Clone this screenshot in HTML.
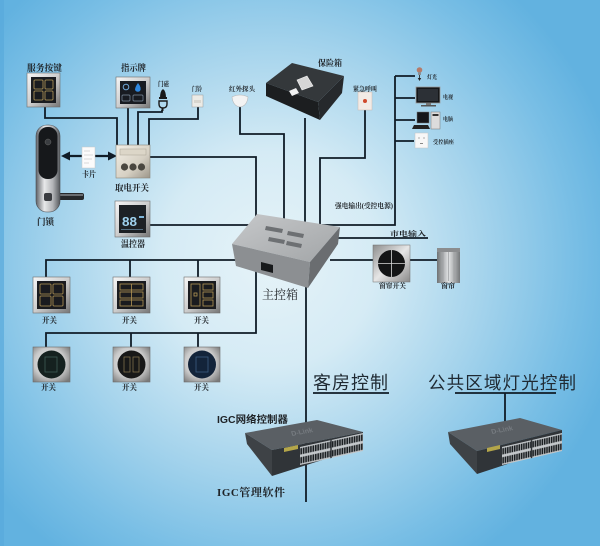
<!DOCTYPE html>
<html><head><meta charset="utf-8">
<style>
html,body{margin:0;padding:0;background:#9fd0ec;}
body{width:600px;height:546px;overflow:hidden;}
svg{display:block;}
.s{font-family:"Liberation Serif","Noto Serif CJK SC",serif;font-weight:bold;fill:#1e2226;}
.h{font-family:"Liberation Sans","Noto Sans CJK SC",sans-serif;fill:#1f2a33;}
.ln{fill:none;stroke:#101c27;stroke-width:1.8;}
</style></head><body>
<svg width="600" height="546" viewBox="0 0 600 546" xmlns="http://www.w3.org/2000/svg">
<defs>
<radialGradient id="bg" cx="270" cy="260" r="360" gradientUnits="userSpaceOnUse">
 <stop offset="0" stop-color="#e6f3f8"/>
 <stop offset="0.3" stop-color="#d5ebf5"/>
 <stop offset="0.6" stop-color="#a4d3ec"/>
 <stop offset="0.85" stop-color="#78bee5"/>
 <stop offset="1" stop-color="#62b2e0"/>
</radialGradient>
<linearGradient id="silver" x1="0" y1="0" x2="1" y2="1">
 <stop offset="0" stop-color="#f6f6f6"/><stop offset="0.5" stop-color="#cdcdcd"/><stop offset="1" stop-color="#767676"/>
</linearGradient>
<radialGradient id="frame2" cx="0.45" cy="0.45" r="0.7">
 <stop offset="0" stop-color="#f4f4f4"/><stop offset="0.6" stop-color="#c9c9c9"/><stop offset="1" stop-color="#7a7a7a"/>
</radialGradient>
<linearGradient id="beige" x1="0" y1="0" x2="1" y2="1">
 <stop offset="0" stop-color="#f3efe6"/><stop offset="0.6" stop-color="#d6d0c3"/><stop offset="1" stop-color="#9c968a"/>
</linearGradient>
<linearGradient id="lockg" x1="0" y1="0" x2="1" y2="0">
 <stop offset="0" stop-color="#5e6166"/><stop offset="0.35" stop-color="#e8e9ea"/><stop offset="0.7" stop-color="#b2b4b7"/><stop offset="1" stop-color="#55585c"/>
</linearGradient>
<linearGradient id="boxTop" x1="0" y1="0" x2="1" y2="1">
 <stop offset="0" stop-color="#c6c8ca"/><stop offset="1" stop-color="#a2a5a7"/>
</linearGradient>
<linearGradient id="curt" x1="0" y1="0" x2="1" y2="0">
 <stop offset="0" stop-color="#6f7274"/><stop offset="0.5" stop-color="#e2e4e5"/><stop offset="1" stop-color="#75787a"/>
</linearGradient>
<linearGradient id="cswitch" x1="0" y1="0" x2="1" y2="1">
 <stop offset="0" stop-color="#8d8d8d"/><stop offset="0.5" stop-color="#e6e6e6"/><stop offset="1" stop-color="#8a8a8a"/>
</linearGradient>
<pattern id="ports" patternUnits="userSpaceOnUse" width="10" height="20">
 <rect width="10" height="20" fill="#c4c8cb"/>
 <rect x="1.5" y="3" width="7" height="14" fill="#1b1f22"/>
</pattern>
</defs>

<rect width="600" height="546" fill="url(#bg)"/>
<rect x="0" y="0" width="4" height="546" fill="#58aadb" opacity="0.7"/>

<!-- connector lines -->
<path class="ln" d="M45,107 V118 H117 V145"/>
<path class="ln" d="M128,108 V145"/>
<path class="ln" d="M162,110 V112 H138 V145"/>
<path class="ln" d="M198,107 V119 H149 V145"/>
<path class="ln" d="M150,157 H256 V224"/>
<path class="ln" d="M150,225 H256"/>
<path class="ln" d="M240,106 V134 H284 V220"/>
<path class="ln" d="M305,118 V224"/>
<path class="ln" d="M365,110 V158 H320 V226"/>
<path class="ln" d="M322,225 H395 V76"/>
<path class="ln" d="M395,76 H415 M395,98 H415 M395,120 H415 M395,141 H414"/>
<path class="ln" d="M336,238 H428"/>
<path class="ln" d="M330,260 H373 M410,260 H437"/>
<path class="ln" d="M306,280 V502"/>
<path class="ln" d="M240,260 H46 V277 M130,260 V277 M198,260 V277"/>
<path class="ln" d="M256,255 V333 H46 V347 M131,333 V347 M198,333 V347"/>
<path class="ln" d="M313,393 H389"/>
<path class="ln" d="M455,393 H556 M505,393 V422"/>

<!-- double arrow -->
<path d="M67,156 H111" stroke="#101c27" stroke-width="2.2" fill="none"/>
<polygon points="61,156 70,151.5 70,160.5" fill="#101c27"/>
<polygon points="117,156 108,151.5 108,160.5" fill="#101c27"/>

<!-- 服务按键 -->
<rect x="27" y="73" width="33" height="34" fill="url(#silver)" stroke="#6d6d6d" stroke-width="0.6"/>
<rect x="31" y="77" width="25" height="26" fill="#1a1c20"/>
<g fill="none" stroke="#b79a5a" stroke-width="0.8">
 <rect x="34" y="80" width="9" height="9" rx="1"/><rect x="45" y="80" width="8" height="9" rx="1"/>
 <rect x="34" y="91" width="9" height="9" rx="1"/><rect x="45" y="91" width="8" height="9" rx="1"/>
</g>

<!-- 指示牌 -->
<rect x="116" y="77" width="34" height="31" fill="url(#silver)" stroke="#6d6d6d" stroke-width="0.6"/>
<rect x="120" y="81" width="26" height="23" fill="#181b21"/>
<circle cx="126" cy="87" r="2.8" fill="none" stroke="#6fa6d6" stroke-width="1"/>
<path d="M138,83 Q142,88 140,91 Q137,93 135,90 Q135,87 138,83 Z" fill="#2f88e0"/>
<rect x="122" y="95" width="8" height="6" rx="1" fill="none" stroke="#7d8da0" stroke-width="0.7"/>
<rect x="133" y="95" width="10" height="6" rx="1" fill="none" stroke="#7d8da0" stroke-width="0.7"/>

<!-- 门磁 -->
<path d="M160,98 Q160,91 163,89 Q166,91 166,98 Z" fill="#1a1a1a"/>
<rect x="159" y="97" width="8" height="2" fill="#1a1a1a"/>
<path d="M159,101 H167 V104 Q167,108 163,108 Q159,108 159,104 Z" fill="none" stroke="#1a1a1a" stroke-width="1.4"/>
<rect x="161.5" y="108" width="2" height="3" fill="#1a1a1a"/>

<!-- 门铃 -->
<rect x="192" y="95" width="11" height="12" fill="#ecebe6" stroke="#9c9c9c" stroke-width="0.5"/>
<rect x="194" y="100" width="7" height="3" fill="#d8d6cf"/>

<!-- 红外探头 -->
<path d="M232,97 Q240,93 248,97 Q247,106 240,107 Q233,106 232,97 Z" fill="#f3f3f3" stroke="#b8b8b8" stroke-width="0.6"/>

<!-- 保险箱 -->
<polygon points="266,83 292,63 344,76 318,102" fill="#34383b"/>
<polygon points="266,83 318,102 320,120 266,96" fill="#1c1e20"/>
<polygon points="318,102 344,76 342,93 320,120" fill="#26292c"/>
<polygon points="297,80 307,76 313,86 302,90" fill="#d6d6d6" stroke="#f4f4f4" stroke-width="0.6"/>
<polygon points="289,91 296,88 299,93 292,96" fill="#f1f1f1"/>

<!-- 紧急呼叫 -->
<rect x="358" y="92" width="14" height="18" fill="#f2ebe6" stroke="#c9b9b0" stroke-width="0.5"/>
<circle cx="365" cy="101" r="2" fill="#d0492c"/>

<!-- right side appliances -->
<circle cx="419.5" cy="70" r="2.8" fill="#b47b6a"/>
<rect x="418" y="72" width="3" height="3" fill="#8a8f95"/>
<path d="M419.5,75 V80" stroke="#222" stroke-width="0.8"/>
<polygon points="417.8,78 421.2,78 419.5,81" fill="#222"/>

<rect x="416" y="87" width="24" height="16" fill="#161719" stroke="#9a9a9a" stroke-width="0.8"/>
<rect x="418" y="89" width="20" height="12" fill="#2c3036"/>
<rect x="426" y="103" width="5" height="2.5" fill="#777"/>
<rect x="421" y="105" width="15" height="1.5" fill="#555"/>

<rect x="417" y="112" width="12" height="11" fill="#15161a" stroke="#777" stroke-width="0.5"/>
<rect x="431" y="112" width="9" height="17" fill="#dcdcdc" stroke="#777" stroke-width="0.5"/>
<rect x="432.5" y="114" width="6" height="2" fill="#333"/>
<polygon points="414,125 428,125 430,129 412,129" fill="#222"/>

<rect x="415" y="133" width="13" height="15" fill="#f7f7f7" stroke="#c4c4c4" stroke-width="0.5"/>
<circle cx="419" cy="138" r="0.6" fill="#777"/><circle cx="424" cy="138" r="0.6" fill="#777"/>
<rect x="420" y="143" width="3" height="1" fill="#888"/>

<!-- 门锁 -->
<rect x="47" y="193" width="37" height="7" rx="2" fill="#26282b"/>
<rect x="49" y="194" width="34" height="2" fill="#6a6d71"/>
<rect x="36" y="125" width="24" height="87" rx="11" fill="url(#lockg)" stroke="#4a4c50" stroke-width="0.6"/>
<rect x="38.5" y="127" width="19" height="52" rx="9" fill="#16181b"/>
<circle cx="48" cy="142" r="3" fill="#3a3d41" stroke="#666" stroke-width="0.5"/>
<rect x="44" y="193" width="8" height="8" rx="2" fill="#3a3c40"/>

<!-- 卡片 -->
<rect x="82" y="147" width="13" height="21" fill="#fbfbfb" stroke="#c8c8c8" stroke-width="0.5"/>
<path d="M84,151 H90 M84,155 H93 M84,159 H92 M84,163 H89" stroke="#b8b8b8" stroke-width="0.6"/>

<!-- 取电开关 -->
<rect x="116" y="145" width="34" height="33" fill="url(#beige)" stroke="#8a857a" stroke-width="0.6"/>
<rect x="120" y="149" width="26" height="6" fill="#dcd6c8" stroke="#a9a395" stroke-width="0.5"/>
<circle cx="124.5" cy="167" r="3.6" fill="#4a4740"/>
<circle cx="133" cy="167" r="3.6" fill="#4a4740"/>
<circle cx="141.5" cy="167" r="3.6" fill="#4a4740"/>

<!-- 温控器 -->
<rect x="115" y="201" width="35" height="36" fill="url(#silver)" stroke="#6d6d6d" stroke-width="0.6"/>
<rect x="119" y="205" width="27" height="28" fill="#1d2125"/>
<text x="122" y="226" font-family="Liberation Sans, sans-serif" font-size="13" font-weight="bold" fill="#9fd2ef" textLength="15" lengthAdjust="spacingAndGlyphs">88</text>
<rect x="139" y="216" width="5" height="2" fill="#7fb6da"/>
<rect x="121" y="229" width="22" height="1" fill="#546e82"/>

<!-- 主控箱 -->
<polygon points="257,214 340,227 310,262 232,244" fill="url(#boxTop)"/>
<polygon points="232,244 310,262 308,288 236,266" fill="#8c8f92"/>
<polygon points="310,262 340,227 338,244 308,288" fill="#6a6d70"/>
<g fill="#6d7073">
 <polygon points="266,226 283,229 282,233 265,230"/>
 <polygon points="288,231 304,234 303,238 287,235"/>
 <polygon points="269,237 285,240 284,244 268,241"/>
 <polygon points="287,241 302,244 301,248 286,245"/>
</g>
<polygon points="261,262 273,265 273,273 261,270" fill="#17191b"/>

<!-- 窗帘开关 / 窗帘 -->
<rect x="373" y="245" width="37" height="37" fill="url(#cswitch)" stroke="#6f6f6f" stroke-width="0.5"/>
<circle cx="391.5" cy="263.5" r="13.5" fill="#141516"/>
<path d="M378,263.5 H405 M391.5,250 V277" stroke="#d9d9d9" stroke-width="0.8"/>
<rect x="437" y="248" width="23" height="35" fill="url(#curt)"/>
<path d="M443,250 V281 M448.5,250 V281 M454,250 V281" stroke="#9a9c9e" stroke-width="0.7"/>
<rect x="437" y="248" width="23" height="4" fill="#8b8d8f"/>

<!-- 开关 row 1 -->
<rect x="33" y="277" width="37" height="36" fill="url(#silver)" stroke="#6d6d6d" stroke-width="0.6"/>
<rect x="37" y="281" width="29" height="28" fill="#1a1b1f"/>
<g fill="none" stroke="#b39656" stroke-width="0.8">
 <rect x="40" y="284" width="11" height="10" rx="1"/><rect x="53" y="284" width="10" height="10" rx="1"/>
 <rect x="40" y="296" width="11" height="10" rx="1"/><rect x="53" y="296" width="10" height="10" rx="1"/>
</g>
<rect x="113" y="277" width="37" height="36" fill="url(#silver)" stroke="#6d6d6d" stroke-width="0.6"/>
<rect x="117" y="281" width="29" height="28" fill="#1a1b1f"/>
<g fill="none" stroke="#b39656" stroke-width="0.8">
 <rect x="120" y="284" width="23" height="6"/><rect x="120" y="292" width="23" height="6"/><rect x="120" y="300" width="23" height="6"/>
 <path d="M131.5,284 V306"/>
</g>
<rect x="184" y="277" width="36" height="36" fill="url(#silver)" stroke="#6d6d6d" stroke-width="0.6"/>
<rect x="188" y="281" width="28" height="28" fill="#1a1b1f"/>
<g fill="none" stroke="#b39656" stroke-width="0.8">
 <rect x="191" y="284" width="9" height="22"/><rect x="203" y="284" width="10" height="6"/><rect x="203" y="292" width="10" height="6"/><rect x="203" y="300" width="10" height="6"/>
 <rect x="194" y="293" width="3" height="3"/>
</g>

<!-- 开关 row 2 -->
<rect x="33" y="347" width="37" height="35" fill="url(#frame2)" stroke="#6d6d6d" stroke-width="0.6"/>
<circle cx="51.5" cy="364.5" r="14" fill="#15211f"/>
<rect x="45" y="357" width="12" height="15" fill="none" stroke="#3e5b55" stroke-width="0.8"/>
<rect x="113" y="347" width="37" height="35" fill="url(#frame2)" stroke="#6d6d6d" stroke-width="0.6"/>
<circle cx="131.5" cy="364.5" r="14" fill="#181818"/>
<g fill="none" stroke="#8a7a52" stroke-width="0.7"><rect x="124" y="357" width="6" height="15"/><rect x="133" y="357" width="6" height="15"/></g>
<rect x="184" y="347" width="36" height="35" fill="url(#frame2)" stroke="#6d6d6d" stroke-width="0.6"/>
<circle cx="202" cy="364.5" r="14" fill="#13243a"/>
<rect x="196" y="357" width="12" height="15" fill="none" stroke="#3c5d80" stroke-width="0.8"/>

<!-- IGC switch left -->
<polygon points="245,433 317,420 363,432 272,450" fill="#5a5f64"/>
<polygon points="245,433 272,450 272,476 247,444" fill="#3e4246"/>
<polygon points="272,450 363,432 363,447 272,476" fill="#303438"/>
<rect x="0" y="0" width="260" height="40" fill="url(#ports)" transform="matrix(0.2423,-0.0538,0,0.45,300,447)"/>
<rect x="0" y="0" width="6" height="40" fill="#303438" transform="matrix(0.2423,-0.0538,0,0.45,300,447) translate(125,0)"/>
<polygon points="284,448 298,445 298,449 284,452" fill="#b4a64a"/>
<text x="0" y="0" font-family="Liberation Sans, sans-serif" font-size="7" font-weight="bold" fill="#767b80" transform="matrix(0.98,-0.18,0.3,0.95,292,436)">D-Link</text>

<!-- IGC switch right -->
<polygon points="448,432 520,418 562,430 477,451" fill="#5a5f64"/>
<polygon points="448,432 477,451 477,474 450,444" fill="#3e4246"/>
<polygon points="477,451 562,430 562,446 477,474" fill="#303438"/>
<rect x="0" y="0" width="260" height="40" fill="url(#ports)" transform="matrix(0.2308,-0.0538,0,0.45,502,447)"/>
<rect x="0" y="0" width="6" height="40" fill="#303438" transform="matrix(0.2308,-0.0538,0,0.45,502,447) translate(125,0)"/>
<polygon points="487,448 500,445 500,449 487,452" fill="#b4a64a"/>
<text x="0" y="0" font-family="Liberation Sans, sans-serif" font-size="7" font-weight="bold" fill="#767b80" transform="matrix(0.98,-0.18,0.3,0.95,492,434)">D-Link</text>

<!-- labels -->
<text class="s" x="27" y="71" font-size="9" textLength="35" lengthAdjust="spacingAndGlyphs">服务按键</text>
<text class="s" x="121" y="71" font-size="9" textLength="25" lengthAdjust="spacingAndGlyphs">指示牌</text>
<text class="s" x="158" y="86" font-size="6.5" textLength="11" lengthAdjust="spacingAndGlyphs">门磁</text>
<text class="s" x="192" y="91" font-size="6.5" textLength="10" lengthAdjust="spacingAndGlyphs">门铃</text>
<text class="s" x="229" y="91" font-size="6.5" textLength="26" lengthAdjust="spacingAndGlyphs">红外探头</text>
<text class="s" x="318" y="66" font-size="8.5" textLength="24" lengthAdjust="spacingAndGlyphs">保险箱</text>
<text class="s" x="353" y="91" font-size="6.5" textLength="24" lengthAdjust="spacingAndGlyphs">紧急呼叫</text>
<text class="s" x="427" y="79" font-size="5.5" textLength="10" lengthAdjust="spacingAndGlyphs">灯光</text>
<text class="s" x="443" y="99" font-size="5.5" textLength="10" lengthAdjust="spacingAndGlyphs">电视</text>
<text class="s" x="443" y="121" font-size="5.5" textLength="10" lengthAdjust="spacingAndGlyphs">电脑</text>
<text class="s" x="433" y="144" font-size="5.5" textLength="21" lengthAdjust="spacingAndGlyphs">受控插座</text>
<text class="s" x="82" y="177" font-size="8" textLength="14" lengthAdjust="spacingAndGlyphs">卡片</text>
<text class="s" x="115" y="191" font-size="9" textLength="34" lengthAdjust="spacingAndGlyphs">取电开关</text>
<text class="s" x="37" y="225" font-size="9" textLength="17" lengthAdjust="spacingAndGlyphs">门锁</text>
<text class="s" x="121" y="247" font-size="9" textLength="24" lengthAdjust="spacingAndGlyphs">温控器</text>
<text class="s" x="335" y="208" font-size="7" textLength="58" lengthAdjust="spacingAndGlyphs">强电输出(受控电源)</text>
<text class="s" x="390" y="236" font-size="7" textLength="36" lengthAdjust="spacingAndGlyphs">市电输入</text>
<text class="s" x="379" y="288" font-size="7" textLength="27" lengthAdjust="spacingAndGlyphs">窗帘开关</text>
<text class="s" x="441" y="288" font-size="7" textLength="14" lengthAdjust="spacingAndGlyphs">窗帘</text>
<text x="262" y="299" font-size="12.5" textLength="36" lengthAdjust="spacingAndGlyphs" style="font-family:'Liberation Serif','Noto Serif CJK SC',serif;fill:#1e2226;">主控箱</text>
<text class="s" x="42" y="323" font-size="8" textLength="15" lengthAdjust="spacingAndGlyphs">开关</text>
<text class="s" x="122" y="323" font-size="8" textLength="15" lengthAdjust="spacingAndGlyphs">开关</text>
<text class="s" x="194" y="323" font-size="8" textLength="15" lengthAdjust="spacingAndGlyphs">开关</text>
<text class="s" x="41" y="390" font-size="8" textLength="15" lengthAdjust="spacingAndGlyphs">开关</text>
<text class="s" x="122" y="390" font-size="8" textLength="15" lengthAdjust="spacingAndGlyphs">开关</text>
<text class="s" x="194" y="390" font-size="8" textLength="15" lengthAdjust="spacingAndGlyphs">开关</text>
<text class="h" x="313" y="389" font-size="18" textLength="75" lengthAdjust="spacing">客房控制</text>
<text class="h" x="428" y="389" font-size="17.5" textLength="148" lengthAdjust="spacing">公共区域灯光控制</text>
<text x="217" y="423" font-size="10" font-weight="bold" textLength="71" lengthAdjust="spacingAndGlyphs" style="font-family:'Liberation Sans','Noto Sans CJK SC',sans-serif;fill:#1e2226;">IGC网络控制器</text>
<text class="s" x="217" y="496" font-size="11" textLength="68" lengthAdjust="spacing">IGC管理软件</text>
</svg>
</body></html>
